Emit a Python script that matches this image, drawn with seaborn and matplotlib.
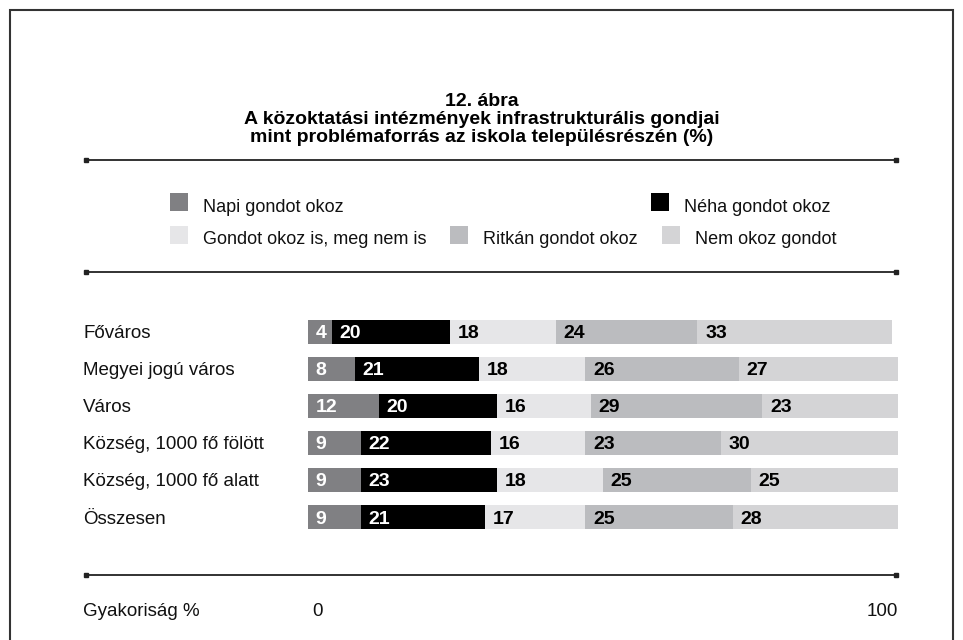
import numpy as np
import pandas as pd
import seaborn as sns
import matplotlib.pyplot as plt
from matplotlib.lines import Line2D
from matplotlib.patches import Rectangle
from matplotlib.transforms import blended_transform_factory

# data
categories = [
    "Főváros",
    "Megyei jogú város",
    "Város",
    "Község, 1000 fő fölött",
    "Község, 1000 fő alatt",
    "Összesen",
]
napi = [4, 8, 12, 9, 9, 9]
neha = [20, 21, 20, 22, 23, 21]
is_nem = [18, 18, 16, 16, 18, 17]
ritkan = [24, 26, 29, 23, 25, 25]
nem_okoz = [33, 27, 23, 30, 25, 28]

series_names = [
    "Napi gondot okoz",
    "Néha gondot okoz",
    "Gondot okoz is, meg nem is",
    "Ritkán gondot okoz",
    "Nem okoz gondot",
]
colors = ["#808083", "#000000", "#e6e6e8", "#bbbcbf", "#d4d4d6"]
label_colors = ["white", "white", "black", "black", "black"]

sns.set_style("white")
plt.rcParams["font.family"] = ["Liberation Sans", "DejaVu Sans"]
plt.rcParams["text.color"] = "#111111"

W, H = 963, 640
fig = plt.figure(figsize=(W / 100, H / 100), dpi=100)


def fx(px):
    return px / W


def fy(py):
    return 1 - py / H


# frame
fig.add_artist(Rectangle((fx(10), -0.1), fx(943), fy(10) + 0.1,
                         transform=fig.transFigure, fill=False,
                         edgecolor="#333333", linewidth=1.5))

# title
title_lines = [
    "12. ábra",
    "A közoktatási intézmények infrastrukturális gondjai",
    "mint problémaforrás az iskola településrészén (%)",
]
for t, yy in zip(title_lines, [101, 119, 137]):
    fig.text(fx(482), fy(yy), t, ha="center", va="center",
             fontsize=14, fontweight="bold", color="black")

# separator lines with square ends
for yy in [160, 272, 575]:
    fig.add_artist(Line2D([fx(86), fx(896)], [fy(yy), fy(yy)],
                          transform=fig.transFigure, color="#222222",
                          linewidth=1.3, marker="s", markersize=3.5))

# legend
legend_pos = [(170, 202), (651, 202), (170, 235), (450, 235), (662, 235)]
for name, col, (lx, ly) in zip(series_names, colors, legend_pos):
    fig.add_artist(Rectangle((fx(lx), fy(ly + 9)), fx(18), 18 / H,
                             transform=fig.transFigure, facecolor=col,
                             edgecolor="none"))
    fig.text(fx(lx + 33), fy(ly + 5), name, ha="left", va="center",
             fontsize=13)

# bars
ax = fig.add_axes([fx(308), fy(535.5), fx(590), (535.5 - 313.5) / H])
vals = np.array([napi, neha, is_nem, ritkan, nem_okoz])
cum = vals.cumsum(axis=0)
df = pd.DataFrame({"cat": categories})
for i in range(len(series_names) - 1, -1, -1):
    df["v"] = cum[i]
    sns.barplot(data=df, x="v", y="cat", color=colors[i], width=0.64,
                saturation=1, edgecolor="none", linewidth=0, ax=ax,
                orient="h")

dy = 2.0 / 37  # small downward nudge for text centring
starts = cum - vals
for i in range(len(series_names)):
    for j in range(len(categories)):
        ax.text(starts[i, j] + 1.3, j + dy, str(vals[i, j]), ha="left",
                va="center", fontsize=14, fontweight="bold",
                color=label_colors[i])

ax.set_xlim(0, 100)
ax.set_ylim(len(categories) - 0.5, -0.5)
ax.set_axis_off()

trans = blended_transform_factory(fig.transFigure, ax.transData)
for j, c in enumerate(categories):
    ax.text(fx(83), j + dy, c, transform=trans, ha="left", va="center",
            fontsize=13.5)

# bottom scale
fig.text(fx(83), fy(612), "Gyakoriság %", ha="left", va="center", fontsize=13.5)
fig.text(fx(312), fy(612), "0", ha="left", va="center", fontsize=13.5)
fig.text(fx(898), fy(612), "100", ha="right", va="center", fontsize=13.5)

fig.savefig("out.png", dpi=100)
